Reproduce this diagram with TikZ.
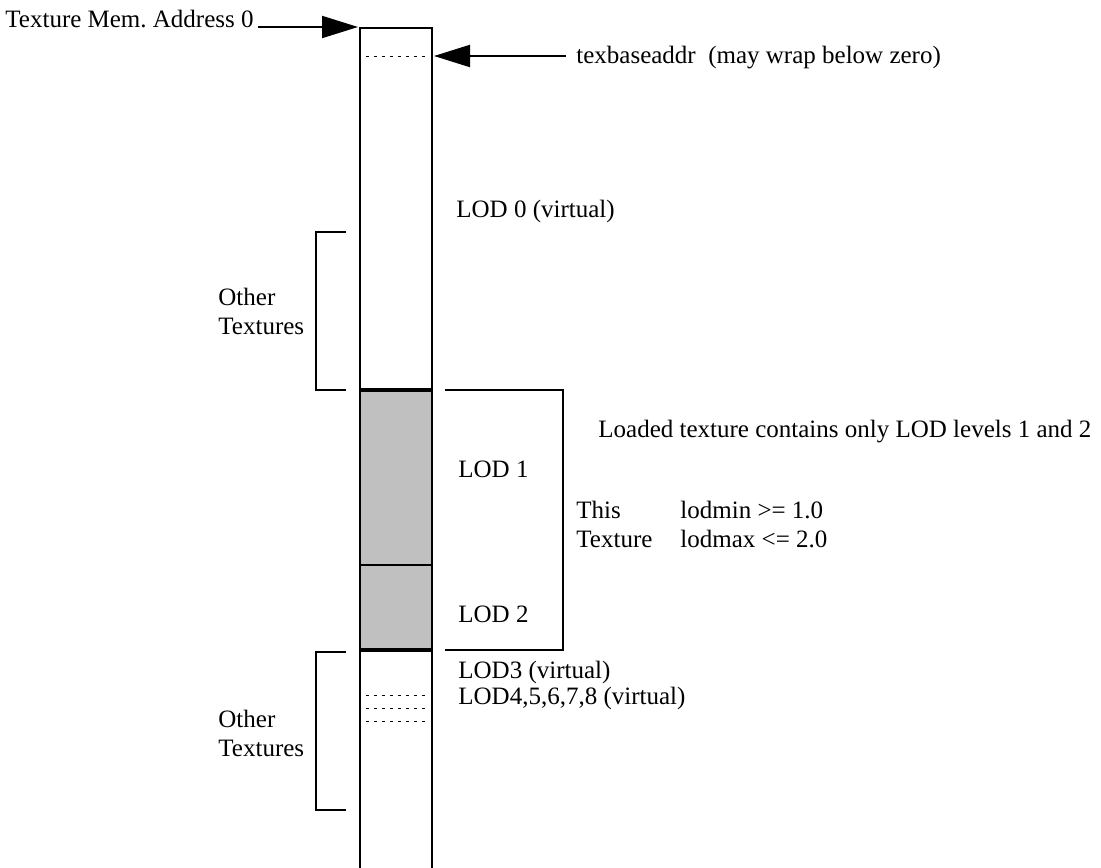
\documentclass[tikz,border=0pt]{standalone}
\usepackage{fontspec}
\setmainfont{Liberation Serif}
\usetikzlibrary{arrows.meta}
\definecolor{lodgray}{RGB}{192,192,192}
\frenchspacing
\begin{document}
\begin{tikzpicture}[x=0.5pt,y=-0.5pt,
  lbl/.style={inner sep=0pt,anchor=base west,font=\fontsize{12.5pt}{14pt}\selectfont},
  ln/.style={line width=1pt},
  thick line/.style={line width=1.6pt},
  dots/.style={line width=0.5pt,dash pattern=on 1.5pt off 2.5pt},
  bigarrow/.style={line width=1pt,-{Triangle[length=18pt,width=11pt]}}]
\useasboundingbox (0,0) rectangle (1101,867);
% column
\fill[lodgray] (360,390) rectangle (432,650);
\draw[ln] (360,872) -- (360,28) -- (432,28) -- (432,872);
\draw[thick line] (360,390) -- (432,390);
\draw[thick line] (360,650) -- (432,650);
\draw[ln] (360,565) -- (432,565);
% dotted lines
\draw[dots] (366,56) -- (430,56);
\draw[dots] (366,695) -- (430,695);
\draw[dots] (366,708) -- (430,708);
\draw[dots] (366,721) -- (430,721);
% coordinates
\coordinate (top) at (358,27);
\coordinate (base) at (434,56);
\coordinate (tbstart) at (566,56);
% labels
\node[lbl,anchor=base east] (addr) at (254,27) {Texture Mem. Address 0};
\node[lbl] (tba) at (576,63) {texbaseaddr\ \ (may wrap below zero)};
\draw[bigarrow] (addr.base east) ++(4,0) -- (top);
\draw[bigarrow] (tbstart) -- (base);
\node[lbl] (lod0) at (456,217) {LOD 0 (virtual)};
\node[lbl] (oth1a) at (218,305) {Other};
\node[lbl] (oth1b) at (218,334) {Textures};
\node[lbl] (loaded) at (598,437) {Loaded texture contains only LOD levels 1 and 2};
\node[lbl] (lod1) at (458,477) {LOD 1};
\node[lbl] (lod2) at (458,622) {LOD 2};
\node[lbl] (this) at (576,518) {This};
\node[lbl] (texture) at (576,547) {Texture};
\node[lbl] (lodmin) at (680,518) {lodmin >= 1.0};
\node[lbl] (lodmax) at (680,547) {lodmax <= 2.0};
\node[lbl] (lod3) at (458,678) {LOD3 (virtual)};
\node[lbl] (lod4) at (458,704) {LOD4,5,6,7,8 (virtual)};
\node[lbl] (oth2a) at (218,727) {Other};
\node[lbl] (oth2b) at (218,756) {Textures};
% brackets
\draw[ln] (346,232) -- (316,232) -- (316,390) -- (346,390);
\draw[ln] (346,652) -- (316,652) -- (316,810) -- (346,810);
\draw[ln] (445,390) -- (563,390) -- (563,650) -- (445,650);
\end{tikzpicture}
\end{document}
